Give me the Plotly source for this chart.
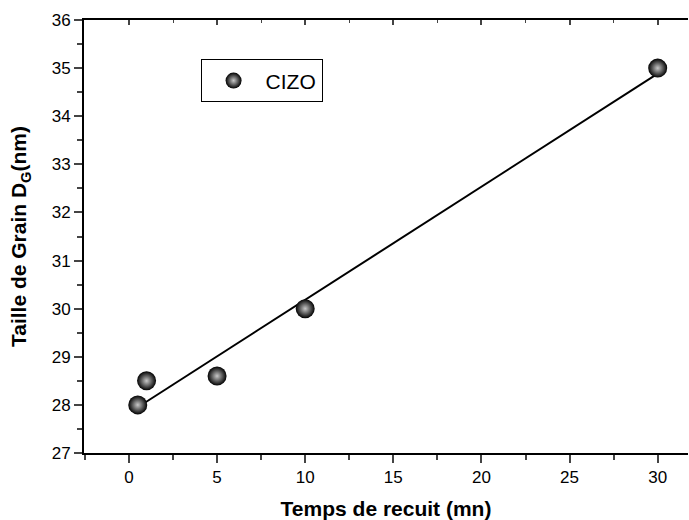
import numpy as np
import plotly.graph_objects as go

time_mn = [0.5, 1, 5, 10, 30]
grain_nm = [28.0, 28.5, 28.6, 30.0, 35.0]
x_ticks = [0, 5, 10, 15, 20, 25, 30]
y_ticks = [27, 28, 29, 30, 31, 32, 33, 34, 35, 36]

slope, intercept = np.polyfit(time_mn, grain_nm, 1)
fit_x = [min(time_mn), max(time_mn)]
fit_y = [slope * v + intercept for v in fit_x]

fig = go.Figure()
fig.add_trace(go.Scatter(x=fit_x, y=fit_y, mode="lines",
                         line=dict(color="black", width=2), showlegend=False))
fig.add_trace(go.Scatter(x=time_mn, y=grain_nm, mode="markers", name="CIZO",
                         marker=dict(size=19, color="black",
                                     gradient=dict(type="radial", color="#c8c8c8"),
                                     line=dict(width=0))))
# dummy trace for top axis
fig.add_trace(go.Scatter(x=time_mn, y=grain_nm, xaxis="x2", mode="markers",
                         marker=dict(opacity=0), showlegend=False, hoverinfo="skip"))

font = "Arial, Liberation Sans, sans-serif"
fig.update_layout(
    width=689, height=520,
    margin=dict(l=84, r=1, t=20, b=67),
    plot_bgcolor="white", paper_bgcolor="white",
    font=dict(family=font, color="black", size=17),
    showlegend=True,
    legend=dict(x=0.193, y=0.909, xanchor="left", yanchor="top",
                bordercolor="black", borderwidth=1, bgcolor="white",
                font=dict(size=21), itemsizing="trace", itemwidth=54),
    xaxis=dict(range=[-2.55, 31.72], tickvals=x_ticks, ticks="outside", ticklen=8,
               tickwidth=2, showline=True, linewidth=2, linecolor="black",
               showgrid=False, zeroline=False, automargin=False,
               minor=dict(dtick=2.5, tick0=0, ticks="outside", ticklen=5, tickwidth=1.5,
                          showgrid=False),
               title=dict(text="<b>Temps de recuit (mn)</b>", font=dict(size=21), standoff=16)),
    xaxis2=dict(range=[-2.55, 31.72], overlaying="x", side="top", tickvals=x_ticks,
                ticks="inside", ticklen=5, tickwidth=1.5, showticklabels=False,
                showline=True, linewidth=2, linecolor="black", showgrid=False,
                zeroline=False, automargin=False,
                minor=dict(dtick=2.5, tick0=0, ticks="inside", ticklen=3, tickwidth=1,
                           showgrid=False)),
    yaxis=dict(range=[27, 36], tickvals=y_ticks, ticks="outside", ticklen=8,
               tickwidth=2, showline=True, linewidth=2, linecolor="black",
               showgrid=False, zeroline=False, automargin=False,
               minor=dict(dtick=0.5, tick0=27, ticks="outside", ticklen=5, tickwidth=1.5,
                          showgrid=False),
               title=dict(text="<b>Taille de Grain D<sub>G</sub>(nm)</b>", font=dict(size=21),
                          standoff=19)),
)
fig.write_html("out.html", config={"displayModeBar": False},
               post_script="document.body.style.margin='0';document.body.style.padding='0';")
